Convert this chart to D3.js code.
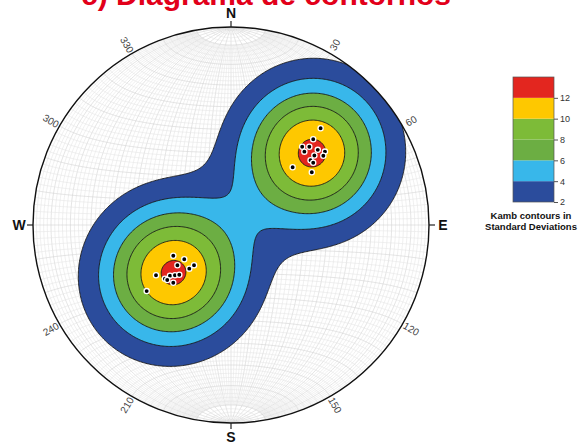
<!DOCTYPE html>
<html><head><meta charset="utf-8">
<script src="https://cdn.jsdelivr.net/npm/d3@7"></script>
<style>body{margin:0;background:#fff;} svg{display:block;font-family:"Liberation Sans",Arial,sans-serif;}</style>
</head><body>
<svg id="chart" width="581" height="442"></svg>
<script>
// ---- data ----
const titleText = "c) Diagrama de contornos";
const poleTrend = [42.8,43.8,42.3,45,45,49.1,52,50.2,53.1,50.8,52.9,46.9,56.9,
                   242,233.7,233.1,222.6,223.7,236.2,230.9,230.3,228.1,226.1,225,231.9,229.2];
const polePlunge = [33.8,39.8,45.6,43.4,46.5,41.6,39.6,44.4,41.3,47,46.8,54.9,49.7,
                    63,66.1,62.3,67.5,65.1,52.4,54.6,57.1,58.8,60.3,56.1,45,55.0];
const contourLevels = [2,4,6,8,10,12];
const levelColors = ["#2b4c9c","#38b7ea","#6cae43","#7dbb38","#fec800","#e3261f"];
const legendTicks = [2,4,6,8,10,12];
const legendMax = 14;
const azimuthLabels = [30,60,120,150,210,240,300,330];
const cardinalNames = ["N","E","S","W"];
const cardinalAz = [0,90,180,270];
const legendTitle = ["Kamb contours in","Standard Deviations"];

// ---- layout ----
const cx=231, cy=225, R=198;
const svg = d3.select("#chart");
svg.append("rect").attr("width",581).attr("height",442).attr("fill","#fff");
const x = d3.scaleLinear().domain([-1,1]).range([cx-R,cx+R]);
const y = d3.scaleLinear().domain([-1,1]).range([cy+R,cy-R]);
const rad = Math.PI/180;
const toNet = (t,p)=>{const r=Math.SQRT2*Math.sin((90-p)/2*rad);return [r*Math.sin(t*rad), r*Math.cos(t*rad)];};
const poles = poleTrend.map((t,i)=>toNet(t,polePlunge[i]));

svg.append("clipPath").attr("id","net").append("circle").attr("cx",cx).attr("cy",cy).attr("r",R);
const gNet = svg.append("g").attr("clip-path","url(#net)");

// Schmidt net grid
const proj = d3.geoAzimuthalEqualArea().rotate([0,0]).scale(R/Math.SQRT2).translate([cx,cy]).clipAngle(90);
const gp = d3.geoPath(proj);
const lines=[];
for(let lon=-88; lon<=88; lon+=2){
  const L = (lon%10===0)?90:80; const c=[];
  for(let lat=-L; lat<=L; lat+=1) c.push([lon,lat]);
  lines.push({type:"LineString",coordinates:c,major:lon%10===0});
}
for(let lat=-88; lat<=88; lat+=2){
  const c=[]; for(let lon=-90; lon<=90; lon+=1) c.push([lon,lat]);
  lines.push({type:"LineString",coordinates:c,major:lat%10===0});
}
gNet.selectAll("path.grid").data(lines).join("path").attr("class","grid")
  .attr("d",gp).attr("fill","none")
  .attr("stroke",d=>d.major?"#d4d4d4":"#e6e6e6").attr("stroke-width",0.6);

// density field (exponential kernel, sigma units)
const n=300, kN=8.46, w=1.0;
const values = new Float64Array(n*n);
for(let j=0;j<n;j++){const yn=1-(j+0.5)*2/n;
  for(let i=0;i<n;i++){const xn=-1+(i+0.5)*2/n; let s=0;
    for(const p of poles){const dx=xn-p[0], dy=yn-p[1]; s+=Math.exp(-kN*(dx*dx+dy*dy));}
    values[j*n+i]=w*s;}}
const contours = d3.contours().size([n,n]).thresholds(contourLevels)(values);
const cPath = d3.geoPath(d3.geoTransform({point(px,py){this.stream.point(x(-1+px*2/n), y(1-py*2/n));}}));
gNet.selectAll("path.ct").data(contours).join("path").attr("class","ct")
  .attr("d",cPath).attr("fill",(d,i)=>levelColors[i])
  .attr("stroke","#1a1a1a").attr("stroke-width",0.9);

// primitive
svg.append("circle").attr("cx",cx).attr("cy",cy).attr("r",R).attr("fill","none").attr("stroke","#111").attr("stroke-width",1.4);

// cardinal ticks + labels
cardinalAz.forEach((a,i)=>{
  const s=Math.sin(a*rad), c=Math.cos(a*rad);
  svg.append("line").attr("x1",cx+R*s).attr("y1",cy-R*c).attr("x2",cx+(R+6)*s).attr("y2",cy-(R+6)*c)
    .attr("stroke","#222").attr("stroke-width",1.2);
  const rr = R+14;
  svg.append("text").attr("x",cx+rr*s).attr("y",cy-rr*c).attr("text-anchor","middle")
    .attr("dominant-baseline","central").attr("font-weight","bold").attr("font-size",14)
    .attr("fill","#111").text(cardinalNames[i]);
});
// azimuth labels
azimuthLabels.forEach(a=>{
  const s=Math.sin(a*rad), c=Math.cos(a*rad), rr=R+10;
  const rot = a<180 ? a-90 : a-270;
  svg.append("text").attr("transform",`translate(${cx+rr*s},${cy-rr*c}) rotate(${rot})`)
    .attr("text-anchor","middle").attr("dominant-baseline","central")
    .attr("font-size",10).attr("fill","#444").text(a);
});

// poles
svg.append("g").selectAll("circle").data(poles).join("circle")
  .attr("cx",d=>x(d[0])).attr("cy",d=>y(d[1])).attr("r",2.6)
  .attr("fill","#000").attr("stroke","#fff").attr("stroke-width",1.3);

// legend
const ly = d3.scaleLinear().domain([2,legendMax]).range([202,77]);
const lg = svg.append("g");
const bands = contourLevels.map((v,i)=>[v, i<contourLevels.length-1?contourLevels[i+1]:legendMax]);
lg.selectAll("rect").data(bands).join("rect").attr("x",513).attr("width",41)
  .attr("y",d=>ly(d[1])).attr("height",d=>ly(d[0])-ly(d[1])).attr("fill",(d,i)=>levelColors[i]);
lg.append("rect").attr("x",513).attr("y",ly(legendMax)).attr("width",41).attr("height",ly(2)-ly(legendMax))
  .attr("fill","none").attr("stroke","#555").attr("stroke-width",0.7);
const ax = lg.append("g").attr("transform","translate(554,0)").call(d3.axisRight(ly).tickValues(legendTicks).tickSize(4).tickPadding(2));
ax.select(".domain").remove();
ax.selectAll("text").attr("font-size",9).attr("fill","#333").attr("font-family","Liberation Sans, Arial");
ax.selectAll("line").attr("stroke","#555");
legendTitle.forEach((t,i)=>{
  lg.append("text").attr("x",531).attr("y",219+i*11).attr("text-anchor","middle")
    .attr("font-weight","bold").attr("font-size",9.5).attr("fill","#111").text(t);
});

// title (clipped at top, as in the reference)
svg.append("text").attr("x",266).attr("y",5).attr("text-anchor","middle")
  .attr("font-weight","bold").attr("font-size",30).attr("fill","#e2001a").text(titleText);
</script>
</body></html>
